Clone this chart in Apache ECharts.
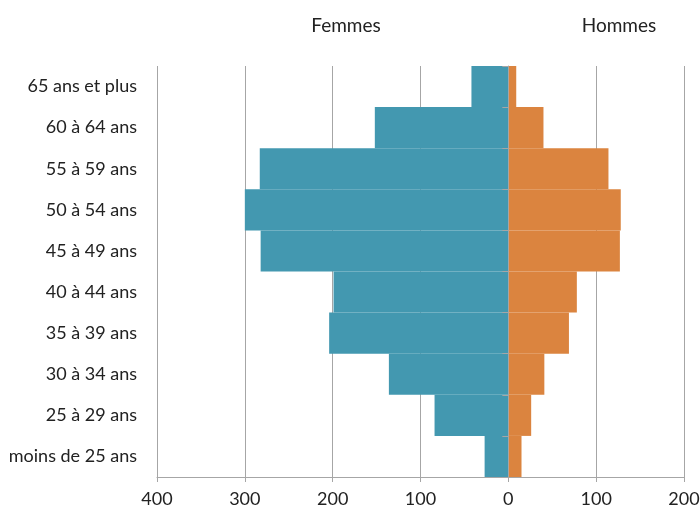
<!DOCTYPE html>
<html>
<head>
<meta charset="utf-8">
<script src="https://cdn.jsdelivr.net/npm/echarts@6/dist/echarts.min.js"></script>
<style>
  html, body { margin: 0; padding: 0; background: #fff; }
  #chart { width: 700px; height: 508px; }
</style>
</head>
<body>
<div id="chart"></div>
<script>
// Age groups, bottom to top
const ageGroups = ['moins de 25 ans', '25 à 29 ans', '30 à 34 ans', '35 à 39 ans', '40 à 44 ans',
                   '45 à 49 ans', '50 à 54 ans', '55 à 59 ans', '60 à 64 ans', '65 ans et plus'];
const femmes = [27, 84, 136, 204, 199, 282, 300, 283, 152, 42];
const hommes = [15, 26, 41, 69, 78, 127, 128, 114, 40, 9];
const xTicks = [-400, -300, -200, -100, 0, 100, 200];

const FONT = 'Lato';
const chart = echarts.init(document.getElementById('chart'), null, { renderer: 'canvas' });

chart.setOption({
  animation: false,
  backgroundColor: '#ffffff',
  textStyle: { fontFamily: FONT },
  title: [
    { text: 'Femmes', left: 341, top: 11, textAlign: 'center',
      textStyle: { fontFamily: FONT, fontSize: 19, fontWeight: 'normal', color: '#222' } },
    { text: 'Hommes', left: 614, top: 11, textAlign: 'center',
      textStyle: { fontFamily: FONT, fontSize: 19, fontWeight: 'normal', color: '#222' } }
  ],
  grid: { left: 157, right: 16, top: 66, bottom: 31, containLabel: false, outerBoundsMode: 'none' },
  xAxis: {
    type: 'value',
    min: xTicks[0],
    max: xTicks[xTicks.length - 1],
    interval: 100,
    axisLine: { show: true, onZero: false, lineStyle: { color: '#a6a6a6', width: 1 } },
    axisTick: { show: true, length: 5, lineStyle: { color: '#a6a6a6' } },
    axisLabel: { formatter: v => String(Math.abs(v)), fontSize: 18, color: '#222', margin: 13, fontFamily: FONT },
    splitLine: { show: true, lineStyle: { color: '#a6a6a6', width: 1 } }
  },
  yAxis: [
    {
      type: 'category',
      data: ageGroups,
      position: 'left',
      axisLine: { show: false, onZero: false },
      axisTick: { show: false },
      axisLabel: { fontSize: 18, color: '#222', margin: 20, fontFamily: FONT },
      splitLine: { show: false }
    },
    {
      // center axis at zero with boundary ticks
      type: 'category',
      data: ageGroups,
      position: 'left',
      z: 10,
      axisLine: { show: true, onZero: true, lineStyle: { color: '#a6a6a6', width: 1 } },
      axisTick: { show: true, length: 6, lineStyle: { color: '#a6a6a6' } },
      axisLabel: { show: false },
      splitLine: { show: false }
    }
  ],
  series: [
    {
      name: 'Femmes',
      type: 'bar',
      stack: 'pyramide',
      yAxisIndex: 0,
      barWidth: '100%',
      data: femmes.map(v => -v),
      itemStyle: { color: '#4398b0' }
    },
    {
      name: 'Hommes',
      type: 'bar',
      stack: 'pyramide',
      yAxisIndex: 0,
      barWidth: '100%',
      data: hommes,
      itemStyle: { color: '#db843f' }
    }
  ]
});
</script>
</body>
</html>
